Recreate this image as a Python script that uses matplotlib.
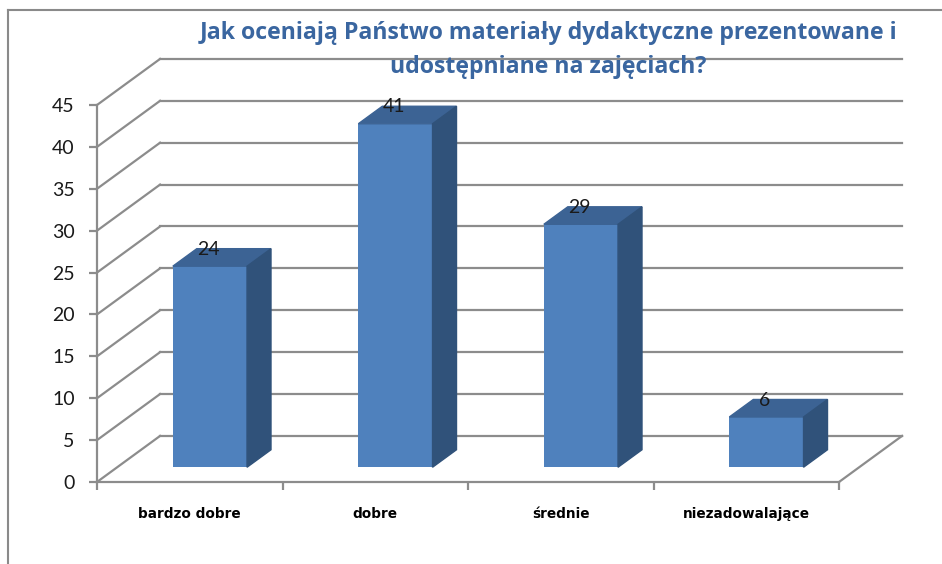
import matplotlib.pyplot as plt
from matplotlib.patches import Polygon
from matplotlib.lines import Line2D

# Data
categories = ['bardzo dobre', 'dobre', 'średnie', 'niezadowalające']
values = [24, 41, 29, 6]
yticks = [0, 5, 10, 15, 20, 25, 30, 35, 40, 45]
title_lines = ['Jak oceniają Państwo materiały dydaktyczne prezentowane i',
               'udostępniane na zajęciach?']

# Pseudo 3D depth (in data units) and bar placement within the depth
dx = 0.34
dy = 5.5
f0, f1 = 0.32, 0.70
bw = 0.4

front_col = '#4F81BD'
top_col = '#3C6394'
side_col = '#30527A'
grid_col = '#8C8C8C'

W, H = 942, 564
fig = plt.figure(figsize=(W / 100, H / 100), dpi=100)
ax = fig.add_axes([97 / W, (H - 482) / H, 742 / W, 377 / H])
ax.set_xlim(0, 4)
ax.set_ylim(0, 45)

# back wall + left wall gridlines
for v in yticks:
    ax.plot([dx, 4 + dx], [v + dy, v + dy], color=grid_col, lw=1.6, clip_on=False, zorder=1)
    ax.plot([0, dx], [v, v + dy], color=grid_col, lw=1.6, clip_on=False, zorder=1)
# floor right edge
ax.plot([4, 4 + dx], [0, dy], color=grid_col, lw=1.6, clip_on=False, zorder=1)

# bars
xs = [i + 0.5 - bw / 2 + f0 * dx for i in range(len(values))]
ax.bar(xs, values, width=bw, bottom=f0 * dy, align='edge', color=front_col, zorder=3)
d = (f1 - f0)
for x, v in zip(xs, values):
    yb = f0 * dy
    top = Polygon([(x, yb + v), (x + bw, yb + v), (x + bw + d * dx, yb + v + d * dy),
                   (x + d * dx, yb + v + d * dy)], closed=True, color=top_col, zorder=3, clip_on=False)
    side = Polygon([(x + bw, yb), (x + bw + d * dx, yb + d * dy), (x + bw + d * dx, yb + v + d * dy),
                    (x + bw, yb + v)], closed=True, color=side_col, zorder=3, clip_on=False)
    ax.add_patch(top)
    ax.add_patch(side)
    ax.text(x + bw / 2 - 0.01, yb + v + d * dy - 1.1, str(v), ha='center', va='bottom',
            fontsize=14, family='Lato', color='#1a1a1a', zorder=5, clip_on=False)

# axes styling
for s in ['top', 'right']:
    ax.spines[s].set_visible(False)
for s in ['left', 'bottom']:
    ax.spines[s].set_color(grid_col)
    ax.spines[s].set_linewidth(1.6)
    ax.spines[s].set_zorder(2)
ax.set_facecolor('none')

ax.set_yticks(yticks)
ax.set_yticklabels([str(t) for t in yticks], fontsize=14, family='Lato', color='#1a1a1a')
ax.tick_params(axis='y', length=6, width=1.6, color=grid_col, pad=10)

ax.set_xticks([0, 1, 2, 3, 4])
ax.set_xticklabels([])
ax.tick_params(axis='x', which='major', length=6, width=1.6, color=grid_col)
ax.set_xticks([0.5, 1.5, 2.5, 3.5], minor=True)
ax.set_xticklabels(categories, minor=True, fontsize=9.8, fontweight='bold', family='DejaVu Sans')
ax.tick_params(axis='x', which='minor', length=0, pad=18)

# title in two lines
for line, base in zip(title_lines, [39, 73]):
    fig.text(548 / W, 1 - base / H, line, ha='center', va='baseline', fontsize=16.7,
             fontweight='bold', family='Open Sans', color='#3A66A0')

# outer frame (left and top edges)
fig.add_artist(Line2D([8 / W, 8 / W], [0, 1 - 10 / H], color='#8a8a8a', lw=1.5))
fig.add_artist(Line2D([8 / W, 1], [1 - 10 / H, 1 - 10 / H], color='#8a8a8a', lw=1.5))

fig.savefig('out.png', dpi=100)
